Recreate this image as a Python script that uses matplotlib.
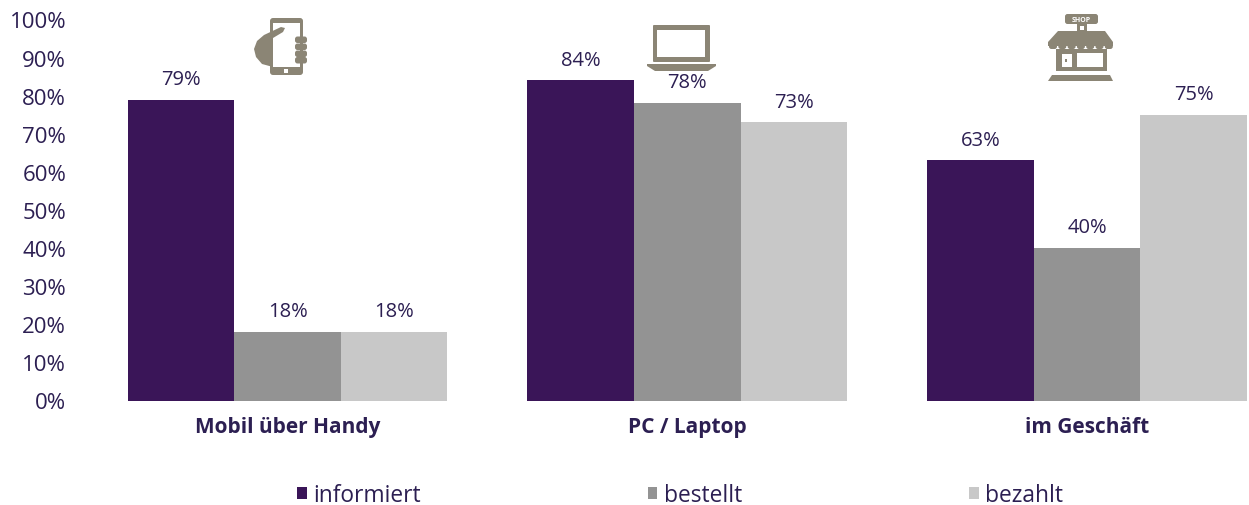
import matplotlib
matplotlib.use('Agg')
import numpy as np
import matplotlib.pyplot as plt
from matplotlib.patches import Polygon, Rectangle, FancyBboxPatch

# Werte aus dem Bild
kategorien = ['Mobil über Handy', 'PC / Laptop', 'im Geschäft']
informiert = [79, 84, 63]
bestellt = [18, 78, 40]
bezahlt = [18, 73, 75]
y_ticks = [0, 10, 20, 30, 40, 50, 60, 70, 80, 90, 100]

plt.rcParams['font.family'] = ['Open Sans', 'DejaVu Sans']

TEXT = '#2c1f52'
ICON = '#8b8575'
W, H = 1249, 506

fig = plt.figure(figsize=(12.49, 5.06), dpi=100)
ax = fig.add_axes([87.7 / W, 1 - 401.5 / H, (W - 87.7) / W, 381 / H])

x = np.arange(len(kategorien))
breite = 0.8 / 3
serien = [('informiert', informiert, '#3a1558'),
          ('bestellt', bestellt, '#939393'),
          ('bezahlt', bezahlt, '#c8c8c8')]

for i, (name, werte, farbe) in enumerate(serien):
    bars = ax.bar(x + (i - 1) * breite, werte, breite, color=farbe, label=name)
    for b, w in zip(bars, werte):
        ax.annotate(f'{w}%', (b.get_x() + b.get_width() / 2, w), xytext=(0, 15),
                    textcoords='offset points', ha='center', va='center',
                    fontsize=14.5, color=TEXT)

ax.set_xlim(-0.5, -0.5 + (W - 87.7) / 399.7)
ax.set_ylim(0, 100)
ax.set_yticks(y_ticks)
ax.set_yticklabels([f'{t}%' for t in y_ticks], fontsize=16, color=TEXT)
ax.set_xticks(x)
ax.set_xticklabels(kategorien, fontsize=15, fontweight='bold', color=TEXT)
ax.tick_params(axis='both', length=0)
ax.tick_params(axis='y', pad=15.5)
ax.tick_params(axis='x', pad=11)
for s in ax.spines.values():
    s.set_visible(False)

ax.legend(loc='center left', bbox_to_anchor=(297 / W, 1 - 496 / H),
          bbox_transform=fig.transFigure, ncols=3, frameon=False,
          fontsize=16.4, labelcolor=TEXT, handlelength=0.42, handleheight=0.42,
          handletextpad=0.3, columnspacing=9.95, borderpad=0, borderaxespad=0)

# Icons in Pixelkoordinaten
ic = fig.add_axes([0, 0, 1, 1], facecolor='none')
ic.set_xlim(0, W)
ic.set_ylim(H, 0)
ic.axis('off')


def box(x0, y0, x1, y1, farbe=ICON, r=1.5):
    ic.add_patch(FancyBboxPatch((x0 + r, y0 + r), x1 - x0 - 2 * r, y1 - y0 - 2 * r,
                                boxstyle=f'round,pad={r}', fc=farbe, ec='none'))


def rect(x0, y0, x1, y1, farbe='white'):
    ic.add_patch(Rectangle((x0, y0), x1 - x0, y1 - y0, fc=farbe, ec='none'))


# Handy
box(270, 19, 303, 76, r=3)
rect(273, 24, 300, 68)
rect(284, 70, 288, 74)
for y0 in [37.5, 44.5, 51.5, 58]:
    box(295, y0, 307, y0 + 6.5, r=2.5)
ic.add_patch(Polygon([(285, 29), (283, 33), (273, 39), (273, 68), (262, 65), (256, 58),
                      (254, 50), (257, 42), (264, 36), (281, 28)], fc=ICON, ec='none'))

# Laptop
box(653, 26, 710, 63, r=1)
rect(657.5, 31, 705.5, 58)
ic.add_patch(Polygon([(647, 65), (716, 65), (716, 67), (708, 72), (655, 72), (647, 67)],
                     fc=ICON, ec='none'))

# Geschaeft
box(1065, 15, 1098, 25, r=2.5)
ic.text(1081.5, 20, 'SHOP', fontsize=5, color='white', fontweight='bold', ha='center', va='center')
rect(1077, 25, 1087, 33, ICON)
rect(1080, 27, 1084, 31)
ic.add_patch(Polygon([(1058, 32), (1105, 32), (1113, 43), (1113, 47), (1048, 47), (1048, 43)],
                     fc=ICON, ec='none'))
for xs in np.arange(1053, 1113, 9.3):
    box(xs - 4, 44, xs + 4, 50, r=2.5)
rect(1056, 50, 1107, 72, ICON)
rect(1062, 55, 1072, 68)
rect(1077, 54, 1103, 68)
rect(1065, 60, 1067.5, 63, ICON)
ic.add_patch(Polygon([(1052, 76), (1110, 76), (1113, 82), (1048, 82)], fc=ICON, ec='none'))

plt.savefig('out.png', dpi=100)
plt.close()
